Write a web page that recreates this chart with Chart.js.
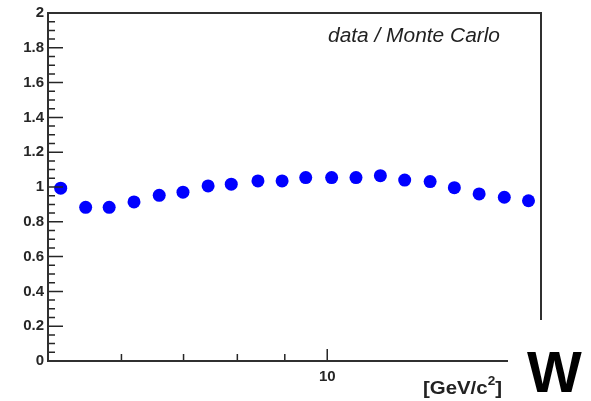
<!DOCTYPE html>
<html>
<head>
<meta charset="utf-8">
<script src="https://cdn.jsdelivr.net/npm/chart.js@4"></script>
<style>
html,body{margin:0;padding:0;background:#fff;}
#wrap{width:591px;height:401px;position:relative;}
</style>
</head>
<body>
<div id="wrap"><canvas id="c" width="591" height="401"></canvas></div>
<script>
// W mass bins (GeV/c^2), log-spaced bin centres
const massValues = [5.16, 5.49, 5.82, 6.19, 6.59, 6.99, 7.44, 7.88, 8.42, 8.94,
                    9.48, 10.11, 10.74, 11.41, 12.12, 12.91, 13.71, 14.58, 15.52, 16.48];
// data / Monte Carlo ratio
const ratioValues = [0.993, 0.883, 0.883, 0.914, 0.952, 0.970, 1.006, 1.016, 1.035, 1.035,
                     1.054, 1.054, 1.054, 1.065, 1.040, 1.031, 0.996, 0.960, 0.941, 0.921];
const yTickValues = [0, 0.2, 0.4, 0.6, 0.8, 1, 1.2, 1.4, 1.6, 1.8, 2];
const xMajorTicks = [10];
const xMinorTicks = [6, 7, 8, 9];
const xMin = 5, xMax = 17;

const FONT = '"Liberation Sans", Arial, Helvetica, sans-serif';
const INK = '#262626';

function drawScaled(ctx, parts, x, baseline, targetWidth) {
  let total = 0;
  parts.forEach(p => { ctx.font = p.font; p.w = ctx.measureText(p.text).width; total += p.w; });
  const sx = targetWidth / total;
  ctx.save();
  ctx.translate(x, baseline);
  ctx.scale(sx, 1);
  let cx = 0;
  parts.forEach(p => {
    ctx.font = p.font;
    ctx.fillText(p.text, cx, p.dy || 0);
    cx += p.w;
  });
  ctx.restore();
}

const decor = {
  id: 'decor',
  afterDraw(chart) {
    const {ctx, chartArea: a, scales: {x, y}} = chart;
    ctx.save();
    ctx.strokeStyle = INK;
    ctx.lineWidth = 1.5;
    ctx.beginPath();
    for (let i = 0; i < yTickValues.length; i++) {
      const v = yTickValues[i];
      const py = y.getPixelForValue(v);
      ctx.moveTo(a.left, py); ctx.lineTo(a.left + 15, py);
      if (i < yTickValues.length - 1) {
        const step = (yTickValues[i + 1] - v) / 4;
        for (let k = 1; k < 4; k++) {
          const pm = y.getPixelForValue(v + k * step);
          ctx.moveTo(a.left, pm); ctx.lineTo(a.left + 7, pm);
        }
      }
    }
    xMinorTicks.forEach(v => {
      const px = x.getPixelForValue(v);
      ctx.moveTo(px, a.bottom); ctx.lineTo(px, a.bottom - 7);
    });
    xMajorTicks.forEach(v => {
      const px = x.getPixelForValue(v);
      ctx.moveTo(px, a.bottom); ctx.lineTo(px, a.bottom - 12);
    });
    ctx.stroke();

    ctx.lineWidth = 2;
    ctx.strokeStyle = '#303030';
    ctx.beginPath();
    ctx.moveTo(a.right, a.bottom);
    ctx.lineTo(a.left, a.bottom);
    ctx.lineTo(a.left, a.top);
    ctx.lineTo(a.right, a.top);
    ctx.lineTo(a.right, a.bottom);
    ctx.stroke();

    ctx.fillStyle = '#ffffff';
    ctx.fillRect(a.right - 33, a.bottom - 41, 120, 100);

    ctx.fillStyle = '#222';
    ctx.textBaseline = 'alphabetic';
    ctx.textAlign = 'left';
    drawScaled(ctx, [{text: 'data / Monte Carlo', font: 'italic 20px ' + FONT}], 328, 41.5, 172);

    drawScaled(ctx, [
      {text: '[GeV/c', font: 'bold 18px ' + FONT},
      {text: '2', font: 'bold 12px ' + FONT, dy: -9},
      {text: ']', font: 'bold 18px ' + FONT}
    ], 423, 394, 79);

    ctx.fillStyle = '#000';
    ctx.font = 'bold 58px ' + FONT;
    ctx.fillText('W', 527, 392);
    ctx.restore();
  }
};

const points = massValues.map((m, i) => ({x: m, y: ratioValues[i]}));

new Chart(document.getElementById('c'), {
  type: 'scatter',
  data: {
    datasets: [{
      data: points,
      backgroundColor: '#0000ff',
      borderColor: '#0000ff',
      borderWidth: 0,
      pointRadius: 6.5,
      pointHoverRadius: 6.5,
      pointStyle: 'circle'
    }]
  },
  options: {
    responsive: false,
    devicePixelRatio: 1,
    animation: false,
    events: [],
    layout: {padding: {top: 13, right: 50, left: 0, bottom: 0}},
    plugins: {legend: {display: false}, tooltip: {enabled: false}, title: {display: false}},
    scales: {
      x: {
        type: 'logarithmic',
        min: xMin, max: xMax,
        afterBuildTicks: s => { s.ticks = xMajorTicks.map(v => ({value: v, major: true})); },
        afterFit: s => { s.height = 40; },
        grid: {display: false, drawTicks: false},
        border: {display: false},
        ticks: {
          callback: v => String(v),
          autoSkip: false,
          maxRotation: 0,
          padding: 7,
          color: INK,
          font: {family: FONT, size: 15, weight: 'bold'}
        }
      },
      y: {
        type: 'linear',
        min: 0, max: 2,
        afterBuildTicks: s => { s.ticks = yTickValues.map(v => ({value: v})); },
        afterFit: s => { s.width = 48; },
        grid: {display: false, drawTicks: false},
        border: {display: false},
        ticks: {
          callback: v => String(Number(v.toFixed(1))),
          autoSkip: false,
          padding: 4,
          color: INK,
          font: {family: FONT, size: 15, weight: 'bold'}
        }
      }
    }
  },
  plugins: [decor]
});
</script>
</body>
</html>
